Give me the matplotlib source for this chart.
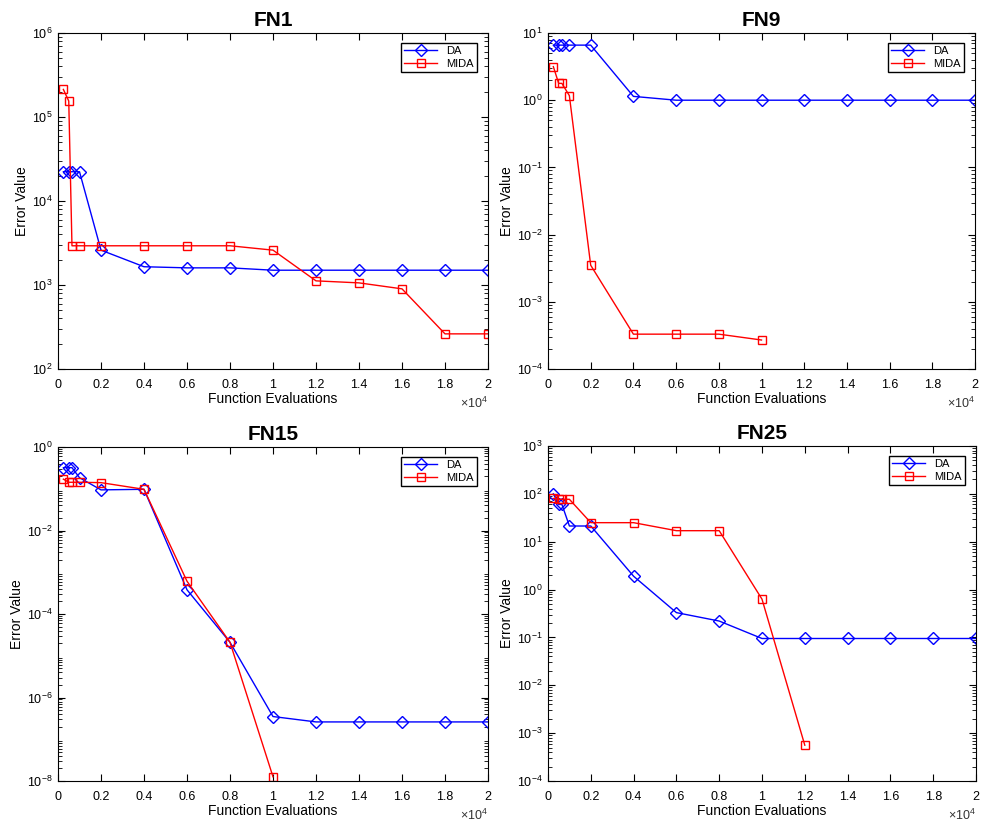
import matplotlib.pyplot as plt
from matplotlib.ticker import LogLocator, NullFormatter
import numpy as np

plt.rcParams['font.family'] = ['Liberation Sans', 'DejaVu Sans']
plt.rcParams['mathtext.fontset'] = 'custom'
plt.rcParams['mathtext.rm'] = 'Liberation Sans'

# Function evaluations (shared x positions)
evals = [250, 500, 650, 1000, 2000, 4000, 6000, 8000, 10000,
         12000, 14000, 16000, 18000, 20000]

# FN1
fn1_da = [22300, 22300, 22300, 22300, 2600, 1650, 1600, 1600, 1500,
          1500, 1500, 1500, 1500, 1500]
fn1_mida = [213000, 155000, 2930, 2930, 2930, 2930, 2930, 2930, 2600,
            1120, 1060, 900, 262, 262]

# FN9
fn9_da = [6.6, 6.6, 6.6, 6.6, 6.6, 1.14, 1.0, 1.0, 1.0,
          1.0, 1.0, 1.0, 1.0, 1.0]
fn9_mida = [3.16, 1.78, 1.78, 1.17, 3.5e-3, 3.3e-4, 3.3e-4, 3.3e-4, 2.7e-4]

# FN15
fn15_da = [0.32, 0.32, 0.32, 0.184, 0.094, 0.097, 3.8e-4, 2.1e-5, 3.5e-7,
           2.6e-7, 2.6e-7, 2.6e-7, 2.6e-7, 2.6e-7]
fn15_mida = [0.17, 0.143, 0.143, 0.143, 0.14, 0.097, 6.1e-4, 2.1e-5, 1.26e-8]

# FN25
fn25_da = [100, 60, 60, 21.3, 21.3, 1.9, 0.33, 0.22, 0.095,
           0.095, 0.095, 0.095, 0.095, 0.095]
fn25_mida = [80, 77, 77, 77, 25, 25, 17, 17, 0.63, 5.6e-4]

xtick_vals = [0, 2000, 4000, 6000, 8000, 10000, 12000, 14000, 16000, 18000, 20000]
xtick_labels = ['0', '0.2', '0.4', '0.6', '0.8', '1', '1.2', '1.4', '1.6', '1.8', '2']

panels = [
    ('FN1', fn1_da, fn1_mida, (1e2, 1e6), [1e2, 1e3, 1e4, 1e5, 1e6]),
    ('FN9', fn9_da, fn9_mida, (1e-4, 1e1), [1e-4, 1e-3, 1e-2, 1e-1, 1e0, 1e1]),
    ('FN15', fn15_da, fn15_mida, (1e-8, 1e0), [1e-8, 1e-6, 1e-4, 1e-2, 1e0]),
    ('FN25', fn25_da, fn25_mida, (1e-4, 1e3),
     [1e-4, 1e-3, 1e-2, 1e-1, 1e0, 1e1, 1e2, 1e3]),
]

# axes rectangles in pixels (left, top, right, bottom)
W, H = 983, 825
rects = [(58, 33, 488, 369), (548, 33, 975, 369),
         (58, 447, 488, 781), (548, 446, 976, 781)]

fig = plt.figure(figsize=(W / 100, H / 100), dpi=100)

for (title, da, mida, ylim, yticks), (l, t, r, b) in zip(panels, rects):
    ax = fig.add_axes([l / W, 1 - b / H, (r - l) / W, (b - t) / H])
    ax.plot(evals[:len(da)], da, color='#0000ff', marker='D', markersize=6,
            markerfacecolor='none', markeredgewidth=1.0, linewidth=1.0, label='DA')
    ax.plot(evals[:len(mida)], mida, color='#ff0000', marker='s', markersize=5.5,
            markerfacecolor='none', markeredgewidth=1.0, linewidth=1.0, label='MIDA')
    ax.set_yscale('log')
    ax.set_xlim(0, 20000)
    ax.set_ylim(*ylim)
    ax.set_yticks(yticks)
    ax.yaxis.set_minor_locator(LogLocator(base=10, subs=np.arange(2, 10), numticks=100))
    ax.yaxis.set_minor_formatter(NullFormatter())
    ax.set_xticks(xtick_vals)
    ax.set_xticklabels(xtick_labels)
    ax.tick_params(which='both', direction='in', top=True, right=True,
                   labelsize=9, pad=4)
    ax.tick_params(axis='x', pad=7)
    ax.tick_params(which='major', length=5, width=0.8)
    ax.tick_params(which='minor', length=3, width=0.6)
    for s in ax.spines.values():
        s.set_linewidth(0.8)
    ax.set_title(title, fontsize=15, fontweight='bold', pad=5)
    ax.set_xlabel('Function Evaluations', fontsize=10, labelpad=1)
    ax.set_ylabel('Error Value', fontsize=10, labelpad=2)
    ax.annotate(r'$\times10^{4}$', xy=(1.0, 0.0), xycoords='axes fraction',
                xytext=(0, -25), textcoords='offset points',
                ha='right', va='center', fontsize=9, color='#333333')
    ax.legend(loc='upper right', bbox_to_anchor=(1 - 11 / (r - l), 1 - 10 / (b - t)),
              borderaxespad=0, fontsize=8, frameon=True, fancybox=False,
              edgecolor='black', framealpha=1, handlelength=3,
              borderpad=0.3, labelspacing=0.2)

fig.savefig('out.png', dpi=100)
